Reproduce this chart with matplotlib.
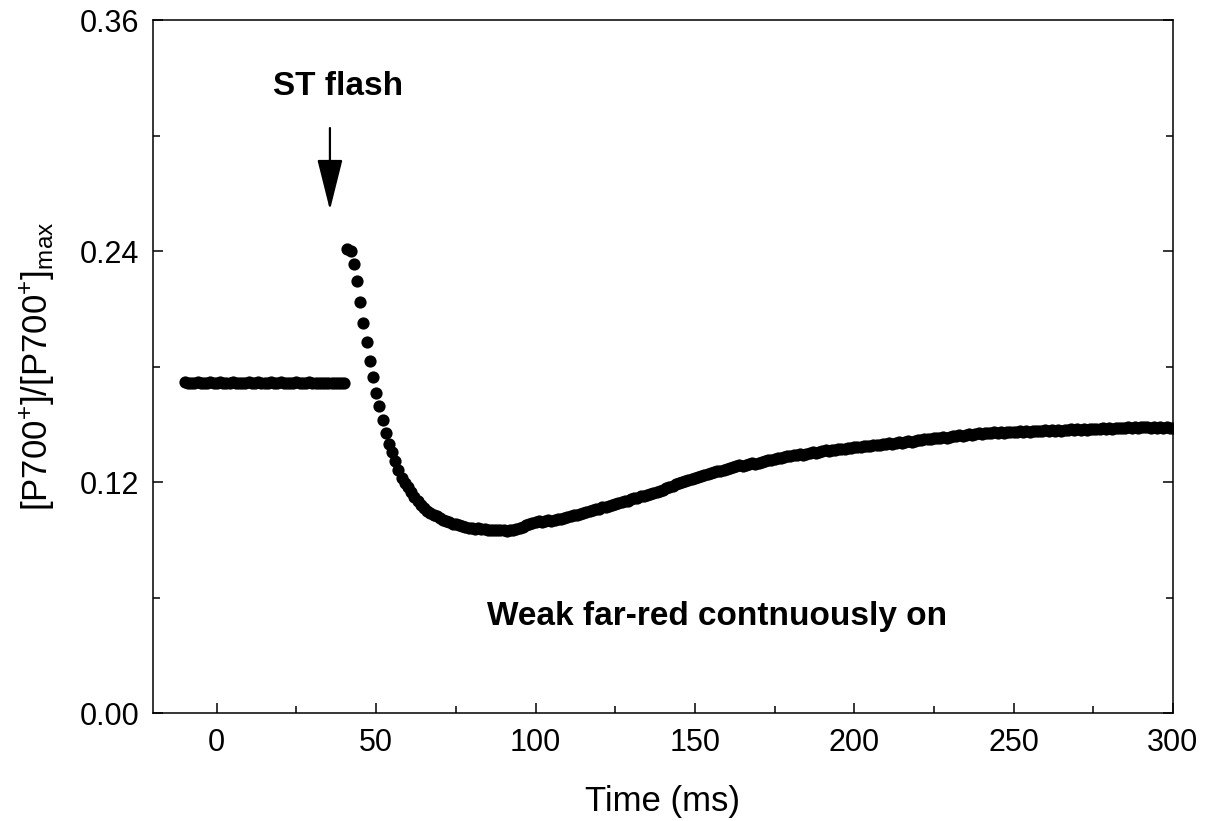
import numpy as np
import matplotlib
matplotlib.use("Agg")
import matplotlib.pyplot as plt

plt.rcParams["font.family"] = ["Liberation Sans", "DejaVu Sans"]
plt.rcParams["mathtext.fontset"] = "custom"
plt.rcParams["mathtext.rm"] = "Liberation Sans"
plt.rcParams["mathtext.it"] = "Liberation Sans:italic"
plt.rcParams["mathtext.bf"] = "Liberation Sans:bold"

# Sampling grid (ms): baseline before the flash, then the post-flash trace
time_baseline = np.arange(-10, 41)
time_after = np.arange(41, 301)

# Normalised P700+ signal under weak far-red background
p700_baseline = [
    0.1718, 0.1715, 0.1717, 0.1714, 0.1719, 0.1716, 0.1713, 0.1717, 0.1720, 0.1716,
    0.1714, 0.1718, 0.1715, 0.1712, 0.1716, 0.1719, 0.1715, 0.1717, 0.1714, 0.1716,
    0.1720, 0.1717, 0.1714, 0.1718, 0.1715, 0.1713, 0.1717, 0.1719, 0.1716, 0.1714,
    0.1718, 0.1715, 0.1717, 0.1713, 0.1716, 0.1719, 0.1715, 0.1712, 0.1716, 0.1718,
    0.1714, 0.1716, 0.1713, 0.1717, 0.1715, 0.1712, 0.1716, 0.1714, 0.1717, 0.1715,
    0.1716,
]

p700_after = [
    0.2409, 0.2400, 0.2333, 0.2244, 0.2135, 0.2024, 0.1929, 0.1829, 0.1744, 0.1661,
    0.1595, 0.1522, 0.1453, 0.1396, 0.1357, 0.1311, 0.1262, 0.1222, 0.1197, 0.1174,
    0.1148, 0.1124, 0.1102, 0.1081, 0.1066, 0.1052, 0.1040, 0.1030, 0.1022, 0.1012,
    0.1005, 0.0996, 0.0990, 0.0984, 0.0980, 0.0975, 0.0971, 0.0967, 0.0963, 0.0961,
    0.0958, 0.0960, 0.0956, 0.0954, 0.0952, 0.0950, 0.0953, 0.0949, 0.0950, 0.0952,
    0.0948, 0.0951, 0.0950, 0.0955, 0.0962, 0.0969, 0.0975, 0.0980, 0.0986, 0.0993,
    0.0996, 0.0992, 0.0998, 0.1001, 0.0999, 0.1004, 0.1008, 0.1006, 0.1012, 0.1017,
    0.1022, 0.1027, 0.1031, 0.1036, 0.1041, 0.1046, 0.1050, 0.1055, 0.1058, 0.1062,
    0.1068, 0.1072, 0.1076, 0.1081, 0.1086, 0.1090, 0.1094, 0.1101, 0.1104, 0.1110,
    0.1115, 0.1118, 0.1125, 0.1130, 0.1133, 0.1140, 0.1145, 0.1148, 0.1153, 0.1160,
    0.1168, 0.1174, 0.1180, 0.1188, 0.1194, 0.1199, 0.1205, 0.1210, 0.1214, 0.1221,
    0.1226, 0.1230, 0.1236, 0.1240, 0.1245, 0.1250, 0.1256, 0.1259, 0.1265, 0.1270,
    0.1274, 0.1280, 0.1283, 0.1287, 0.1284, 0.1290, 0.1294, 0.1297, 0.1295, 0.1301,
    0.1305, 0.1308, 0.1312, 0.1316, 0.1319, 0.1323, 0.1327, 0.1330, 0.1333, 0.1335,
    0.1338, 0.1342, 0.1345, 0.1343, 0.1348, 0.1352, 0.1355, 0.1353, 0.1358, 0.1361,
    0.1364, 0.1362, 0.1366, 0.1369, 0.1372, 0.1370, 0.1374, 0.1377, 0.1375, 0.1380,
    0.1383, 0.1381, 0.1386, 0.1389, 0.1387, 0.1392, 0.1394, 0.1391, 0.1396, 0.1399,
    0.1402, 0.1398, 0.1404, 0.1407, 0.1405, 0.1410, 0.1413, 0.1409, 0.1415, 0.1418,
    0.1416, 0.1421, 0.1424, 0.1422, 0.1427, 0.1430, 0.1428, 0.1433, 0.1431, 0.1436,
    0.1439, 0.1437, 0.1442, 0.1440, 0.1445, 0.1448, 0.1446, 0.1450, 0.1453, 0.1451,
    0.1455, 0.1457, 0.1454, 0.1458, 0.1456, 0.1460, 0.1457, 0.1462, 0.1459, 0.1461,
    0.1458, 0.1463, 0.1460, 0.1465, 0.1462, 0.1466, 0.1463, 0.1467, 0.1464, 0.1468,
    0.1465, 0.1469, 0.1466, 0.1470, 0.1467, 0.1472, 0.1469, 0.1473, 0.1470, 0.1474,
    0.1471, 0.1475, 0.1472, 0.1477, 0.1474, 0.1478, 0.1475, 0.1479, 0.1476, 0.1481,
    0.1478, 0.1482, 0.1479, 0.1483, 0.1480, 0.1485, 0.1482, 0.1486, 0.1483, 0.1487,
    0.1484, 0.1487, 0.1483, 0.1486, 0.1482, 0.1485, 0.1481, 0.1484, 0.1480, 0.1482,
]

x_major = [0, 50, 100, 150, 200, 250, 300]
y_major = [0.00, 0.12, 0.24, 0.36]
y_tick_labels = ["0.00", "0.12", "0.24", "0.36"]

fig = plt.figure(figsize=(12.05, 8.21), dpi=100)
ax = fig.add_axes([0.127, 0.1315, 0.8464, 0.8441])

ax.plot(time_baseline, p700_baseline, "o", color="black", ms=8.8, mec="none")
ax.plot(time_after, p700_after, "o", color="black", ms=8.8, mec="none")

ax.set_xlim(-20, 300)
ax.set_ylim(0, 0.36)
ax.set_xticks(x_major)
ax.set_xticks([25, 75, 125, 175, 225, 275], minor=True)
ax.set_yticks(y_major)
ax.set_yticklabels(y_tick_labels)
ax.set_yticks([0.06, 0.18, 0.30], minor=True)

for side in ax.spines.values():
    side.set_linewidth(1.1)

ax.tick_params(axis="both", which="both", direction="in", width=1.1, labelsize=22)
ax.tick_params(axis="both", which="major", length=7)
ax.tick_params(axis="both", which="minor", length=5)
ax.tick_params(axis="y", which="both", right=True, pad=10)
ax.tick_params(axis="x", which="both", top=False, pad=11)

ax.set_xlabel("Time (ms)", fontsize=25, labelpad=19)
ax.set_ylabel(r"[P700$^{+}$]/[P700$^{+}$]$_{\mathrm{max}}$", fontsize=25, labelpad=16)

ax.text(38, 0.3257, "ST flash", fontsize=24, fontweight="bold",
        ha="center", va="center")
ax.annotate("", xy=(35.5, 0.2613), xytext=(35.5, 0.3039),
            arrowprops=dict(arrowstyle="-|>,head_length=3.2,head_width=0.8",
                            color="black", lw=1.6, mutation_scale=10,
                            shrinkA=0, shrinkB=0))
ax.text(157, 0.0499, "Weak far-red contnuously on", fontsize=24,
        fontweight="bold", ha="center", va="center")

fig.savefig("out.png", dpi=100)
